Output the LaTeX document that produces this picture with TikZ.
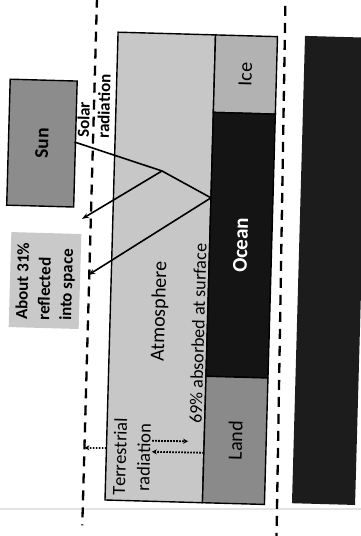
\documentclass[tikz,border=0pt]{standalone}
\usepackage{fontspec}
\setmainfont{Carlito}
\usetikzlibrary{arrows.meta}
\definecolor{atmosc}{gray}{0.78}
\definecolor{icec}{gray}{0.70}
\definecolor{landc}{gray}{0.54}
\definecolor{sunc}{gray}{0.55}
\definecolor{oceanc}{gray}{0.08}
\definecolor{deepc}{gray}{0.11}
\definecolor{reflc}{gray}{0.79}
\begin{document}
\begin{tikzpicture}[x=1pt,y=-1pt,
  box/.style={draw=black,line width=1.4pt,inner sep=0pt,outer sep=0pt},
  lab/.style={rotate=90,inner sep=0pt,outer sep=0pt},
  ray/.style={line width=1.6pt,-{Stealth[length=7pt,width=5pt]}},
  dotarrow/.style={line width=1.8pt,dash pattern=on 1.6pt off 1.4pt,-{Stealth[length=5pt,width=5pt]}},
  sepline/.style={line width=2.3pt,dash pattern=on 10pt off 7pt}]
\useasboundingbox (0,0) rectangle (361,536);
\fill[white] (0,0) rectangle (361,536);
\clip (0,0) rectangle (361,536);
\draw[gray!22,line width=2pt] (0,509) -- (361,509);
\begin{scope}[rotate around={-1.6:(180,268)}, transform shape]
  % boxes
  \node[box,fill=atmosc,minimum width=97.5pt,minimum height=468pt] (atm) at (160.25,268) {};
  \node[box,fill=icec,lab,minimum width=77.5pt,minimum height=62pt,font=\fontsize{20}{22}\selectfont] (ice) at (240,72.75) {Ice};
  \node[box,fill=oceanc,lab,minimum width=264pt,minimum height=62pt,text=white,font=\fontsize{21}{23}\selectfont\bfseries] (ocean) at (240,243.5) {Ocean};
  \node[box,fill=landc,lab,minimum width=126.5pt,minimum height=62pt,font=\fontsize{20}{22}\selectfont] (land) at (240,438.75) {Land};
  \node[fill=deepc,inner sep=0pt,minimum width=63.1pt,minimum height=467.5pt] (deep) at (330.05,266.25) {};
  \node[box,fill=sunc,lab,minimum width=126pt,minimum height=67pt,font=\fontsize{19.5}{22}\selectfont\bfseries] (sun) at (38.5,147) {Sun};
  \node[fill=reflc,inner sep=0pt,minimum width=70pt,minimum height=95pt] (reflbox) at (45.4,284.3) {};
  % separators
  \coordinate (d1t) at (89.5,0);
  \coordinate (d1b) at (89.5,528);
  \coordinate (d2t) at (278,3);
  \coordinate (d2b) at (284,533);
  \draw[sepline] (d1t) -- (d1b);
  \draw[sepline] (d2t) -- (d2b);
  % texts
  \node[lab,font=\fontsize{20}{22}\selectfont] (atmtext) at (161,312) {Atmosphere};
  \node[lab,font=\fontsize{18}{20}\selectfont] (abs) at (199.8,333) {69\% absorbed at surface};
  \node[lab,anchor=west,align=left,font=\fontsize{17}{20}\selectfont\bfseries] (solar) at (89.4,140.4) {Solar\\radiation};
  \node[lab,anchor=west,align=left,font=\fontsize{17}{22}\selectfont\bfseries] (refl) at (46,324) {About 31\%\\reflected\\into space};
  \node[lab,align=center,font=\fontsize{18.5}{24}\selectfont\addfontfeatures{Kerning=Off}] (terr) at (137,458.4) {Terrestrial\\radiation};
  % solar rays
  \coordinate (s0) at (71,145);
  \coordinate (p1) at (159.3,171.5);
  \coordinate (p2) at (209,197);
  \coordinate (r1) at (80.6,221.7);
  \coordinate (r2) at (88.5,277.6);
  \draw[line width=1.6pt,line join=round] (s0) -- (p1) -- (p2);
  \draw[ray] (p1) -- (r1);
  \draw[ray] (p2) -- (r2);
  % terrestrial radiation
  \coordinate (t1a) at (157,441.5);
  \coordinate (t1b) at (193,441);
  \coordinate (t2a) at (209,452);
  \coordinate (t2b) at (157,452.5);
  \coordinate (t3a) at (111.5,450);
  \coordinate (t3b) at (89.5,450.5);
  \draw[dotarrow] (t1a) -- (t1b);
  \draw[dotarrow] (t2a) -- (t2b);
  \draw[dotarrow] (t3a) -- (t3b);
\end{scope}
\end{tikzpicture}
\end{document}
